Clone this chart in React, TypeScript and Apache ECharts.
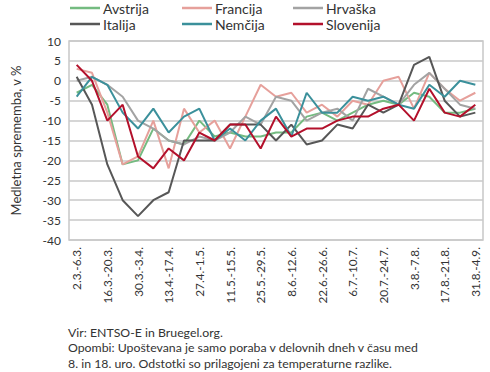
import React, { useEffect, useRef } from "react";
import * as echarts from "echarts";

const categories = [
  "2.3.-6.3.", "9.3.-13.3.", "16.3.-20.3.", "23.3.-27.3.", "30.3.-3.4.", "6.4.-10.4.",
  "13.4.-17.4.", "20.4.-24.4.", "27.4.-1.5.", "4.5.-8.5.", "11.5.-15.5.", "18.5.-22.5.",
  "25.5.-29.5.", "1.6.-5.6.", "8.6.-12.6.", "15.6.-19.6.", "22.6.-26.6.", "29.6.-3.7.",
  "6.7.-10.7.", "13.7.-17.7.", "20.7.-24.7.", "27.7.-31.7.", "3.8.-7.8.", "10.8.-14.8.",
  "17.8.-21.8.", "24.8.-28.8.", "31.8.-4.9.",
];

const avstrija = [-3, -1, -6, -21, -20, -12, -15, -16, -10, -14, -13, -14, -14, -13, -13, -9, -8, -10, -8, -6, -5, -6, -3, -4, -8, -8, -7];
const francija = [3, 2, -8, -21, -19, -10, -22, -7, -13, -10, -17, -9, -1, -4, -3, -8, -6, -9, -5, -6, 0, 1, -7, 2, -2, -5, -3];
const hrvaska = [0, 1, -1, -4, -10, -12, -15, -16, -14, -15, -13, -9, -11, -4, -5, -10, -8, -7, -10, -2, -4, -6, -1, 2, -2, -6, -7];
const italija = [1, -6, -21, -30, -34, -30, -28, -15, -15, -15, -11, -11, -11, -15, -11, -16, -15, -11, -12, -6, -8, -6, 4, 6, -5, -9, -8];
const nemcija = [-4, 1, -1, -8, -12, -7, -13, -9, -7, -15, -12, -15, -10, -7, -14, -3, -8, -8, -4, -5, -4, -6, -7, -1, -4, 0, -1];
const slovenija = [4, 0, -10, -6, -19, -22, -17, -20, -13, -15, -11, -11, -17, -9, -14, -12, -12, -10, -9, -9, -7, -6, -10, -2, -8, -9, -6];

const seriesNames = ["Avstrija", "Francija", "Hrvaška", "Italija", "Nemčija", "Slovenija"];
const seriesData = [avstrija, francija, hrvaska, italija, nemcija, slovenija];
const colors = ["#74bb80", "#e6a09b", "#a3a3a3", "#575757", "#3b909b", "#b3102b"];

const noteLines = [
  "Vir: ENTSO-E in Bruegel.org.",
  "Opombi: Upoštevana je samo poraba v delovnih dneh v času med",
  "8. in 18. uro. Odstotki so prilagojeni za temperaturne razlike.",
];

const FONT = "Lato";

export default function App() {
  const ref = useRef<HTMLDivElement>(null);
  useEffect(() => {
    if (!ref.current) return;
    const chart = echarts.init(ref.current, null, { renderer: "svg" });
    const legendPos = [
      { left: 70, top: 1 }, { left: 182, top: 1 }, { left: 293, top: 1 },
      { left: 70, top: 17 }, { left: 182, top: 17 }, { left: 293, top: 17 },
    ];
    chart.setOption({
      animation: false,
      textStyle: { fontFamily: FONT },
      legend: seriesNames.map((n, i) => ({
        data: [n],
        left: legendPos[i].left,
        top: legendPos[i].top,
        icon: "rect",
        itemWidth: 30,
        itemHeight: 2.5,
        itemGap: 0,
        padding: 0,
        textStyle: { fontFamily: FONT, fontSize: 14, color: "#333", padding: [0, 0, 0, -2] },
      })),
      grid: {
        left: 69,
        right: 7,
        top: 41,
        bottom: 132,
        show: true,
        borderColor: "#c8c8c8",
        borderWidth: 1.5,
      },
      xAxis: {
        type: "category",
        data: categories,
        boundaryGap: true,
        axisLine: { show: false },
        axisTick: { show: false },
        axisLabel: {
          interval: 1,
          rotate: 90,
          fontFamily: FONT,
          fontSize: 11.8,
          color: "#333",
          margin: 7,
        },
      },
      yAxis: {
        type: "value",
        min: -40,
        max: 10,
        interval: 5,
        name: "Medletna sprememba, v %",
        nameLocation: "middle",
        nameRotate: 90,
        nameGap: 47,
        nameTextStyle: { fontFamily: FONT, fontSize: 13, color: "#333" },
        axisLine: { show: false },
        axisTick: { show: false },
        axisLabel: { fontFamily: FONT, fontSize: 12, color: "#333", margin: 8 },
        splitLine: { lineStyle: { color: "#c8c8c8", width: 1.5 } },
      },
      series: seriesNames.map((n, i) => ({
        name: n,
        type: "line",
        data: seriesData[i],
        symbol: "none",
        color: colors[i],
        lineStyle: { width: 2, color: colors[i] },
        z: i === 5 ? 10 : 2 + i,
      })),
      graphic: noteLines.map((t, i) => ({
        type: "text",
        left: 68,
        top: 326 + i * 15.5,
        style: { text: t, fontFamily: FONT, fontSize: 12.3, fill: "#333" },
      })),
    });
    return () => chart.dispose();
  }, []);
  return <div ref={ref} style={{ width: 490, height: 372, position: "absolute", left: 0, top: 0 }} />;
}
